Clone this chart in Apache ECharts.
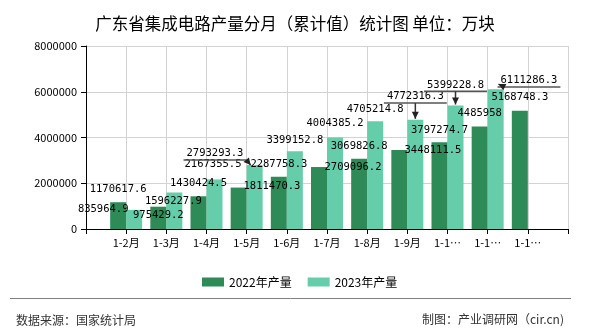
<!DOCTYPE html>
<html>
<head>
<meta charset="utf-8">
<script src="https://cdn.jsdelivr.net/npm/echarts@6/dist/echarts.min.js"></script>
<style>html,body{margin:0;padding:0;background:#fff;}#main{width:590px;height:330px;}</style>
</head>
<body>
<div id="main"></div>
<script>
// ---- data ----
const categories = ['1-2月','1-3月','1-4月','1-5月','1-6月','1-7月','1-8月','1-9月','1-10月','1-11月','1-12月'];
const values2022 = [1170617.6, 975429.2, 1430424.5, 1811470.3, 2287758.3, 2709096.2, 3069826.8, 3448111.5, 3797274.7, 4485958, 5168748.3];
const values2023 = [835964.9, 1596227.9, 2167355.5, 2793293.3, 3399152.8, 4004385.2, 4705214.8, 4772316.3, 5399228.8, 6111286.3, null];
const seriesNames = ['2022年产量', '2023年产量'];
const titleText = '广东省集成电路产量分月（累计值）统计图 单位：万块';
const sourceText = '数据来源：国家统计局';
const creditText = '制图：产业调研网（cir.cn)';

// ---- label placement tweaks (offset from default 'top' spot, px) ----
const labelShift = [
  [[0,0],[0,20.8],[0,-0.9],[33.3,11.5],[0,0],[34,13],[0,0],[33.6,12.5],[0,0.8],[0,-0.9],[0,-0.8]],
  [[-31,11.5],[-1,20.8],[-1.5,-2.5],[-39.7,0.8],[0,1.1],[0,-1.9],[0,0],[0,-10.8],[0,-8.2],[33.3,3.9],[0,0]]
];
// annotated (moved) labels of 2023 series: index -> kind
const annotated = {3: 'left', 7: 'up', 8: 'up', 9: 'right'};

const LABEL_FONT = '"DejaVu Sans Mono", monospace';
const CJK = '"Noto Sans CJK SC", sans-serif';
const colors = ['#2e8b57', '#66cdaa'];

const axisData = [''].concat(categories, ['']);
const pad = arr => [null].concat(arr, [null]);

const chart = echarts.init(document.getElementById('main'), null, {renderer: 'canvas'});

function makeSeries(idx, vals) {
  return {
    name: seriesNames[idx],
    type: 'bar',
    data: pad(vals),
    barWidth: 16,
    barGap: '0%',
    itemStyle: {color: colors[idx]},
    label: {
      show: true,
      position: 'top',
      color: '#000',
      fontSize: 10.5,
      fontFamily: LABEL_FONT,
      formatter: p => String(p.value)
    },
    labelLayout: function (p) {
      const s = (labelShift[p.seriesIndex] || [])[p.dataIndex - 1] || [0, 0];
      const r = p.rect;
      return {
        x: r.x + r.width / 2 + s[0],
        y: r.y - 12.5 + s[1],
        align: 'center',
        verticalAlign: 'middle'
      };
    },
    z: 2
  };
}

const option = {
  animation: false,
  backgroundColor: '#fff',
  title: [
    {text: titleText, left: 'center', top: 10,
     textStyle: {fontSize: 16.5, fontWeight: 'normal', color: '#000', fontFamily: CJK}},
    {text: sourceText, left: 11, top: 309,
     textStyle: {fontSize: 12, fontWeight: 'normal', color: '#333', fontFamily: CJK}},
    {text: creditText, right: 21, top: 308,
     textStyle: {fontSize: 12, fontWeight: 'normal', color: '#333', fontFamily: CJK}}
  ],
  legend: {
    data: seriesNames,
    left: 197, top: 271,
    icon: 'rect', itemWidth: 22, itemHeight: 9, itemGap: 16,
    textStyle: {fontSize: 12, color: '#000', fontFamily: CJK}
  },
  grid: {left: 86, right: 22, top: 46, bottom: 101, containLabel: false},
  xAxis: {
    type: 'category',
    data: axisData,
    boundaryGap: false,
    axisLine: {lineStyle: {color: '#000', width: 1}},
    axisTick: {show: true, length: 5, interval: 0, lineStyle: {color: '#000'}},
    axisLabel: {interval: 0, fontSize: 11, color: '#000', fontFamily: CJK, margin: 8,
                width: 29, overflow: 'truncate', ellipsis: '…'},
    splitLine: {show: true, interval: 0, lineStyle: {color: '#d3d3d3', width: 1}}
  },
  yAxis: {
    type: 'value',
    min: 0, max: 8000000, interval: 2000000,
    axisLine: {show: true, lineStyle: {color: '#000', width: 1}},
    axisTick: {show: true, length: 5, lineStyle: {color: '#000'}},
    axisLabel: {fontSize: 11, color: '#000', fontFamily: CJK, margin: 9,
                formatter: v => String(v)},
    splitLine: {show: true, lineStyle: {color: '#d3d3d3', width: 1}}
  },
  series: [makeSeries(0, values2022), makeSeries(1, values2023)]
};

chart.setOption(option);

// ---- annotation guide lines with arrows for moved labels ----
function textWidth(t) {
  const c = document.createElement('canvas').getContext('2d');
  c.font = '10.5px ' + LABEL_FONT;
  return c.measureText(t).width;
}
function arrowHead(tip, from, len, half, fill) {
  const dx = tip[0] - from[0], dy = tip[1] - from[1];
  const d = Math.sqrt(dx * dx + dy * dy) || 1;
  const ux = dx / d, uy = dy / d;
  const bx = tip[0] - ux * len, by = tip[1] - uy * len;
  return {type: 'polygon', silent: true, z: 100,
    shape: {points: [tip, [bx - uy * half, by + ux * half], [bx + uy * half, by - ux * half]]},
    style: {fill: fill}};
}
const graphics = [{
  type: 'line', silent: true,
  shape: {x1: 10, y1: 298.5, x2: 571, y2: 298.5},
  style: {stroke: '#808080', lineWidth: 1}
}];
Object.keys(annotated).forEach(k => {
  const i = +k, kind = annotated[k];
  const v = values2023[i];
  const pt = chart.convertToPixel({xAxisIndex: 0, yAxisIndex: 0}, [i + 1, v]);
  const barLeft = pt[0], barCx = pt[0] + 8, top = pt[1];
  const s = labelShift[1][i];
  const cx = barCx + s[0], cy = top - 12.5 + s[1];
  const w = textWidth(String(v));
  const uy = cy + 6.5;
  const uL = cx - w / 2 - 3, uR = cx + w / 2 + 3;
  graphics.push({type: 'line', silent: true, z: 99,
    shape: {x1: uL, y1: uy, x2: uR, y2: uy},
    style: {stroke: '#555', lineWidth: 1.5}});
  let from, tip;
  if (kind === 'up') { from = [barCx, uy]; tip = [barCx, top - 1]; }
  else if (kind === 'left') { from = [uR, uy]; tip = [barLeft + 4, top]; }
  else { from = [uL + 7, uy]; tip = [uL + 1, uy - 3]; }
  graphics.push({type: 'line', silent: true, z: 99,
    shape: {x1: from[0], y1: from[1], x2: tip[0], y2: tip[1]},
    style: {stroke: '#333', lineWidth: 1.5}});
  graphics.push(arrowHead(tip, from, 7, 3.5, '#222'));
});
chart.setOption({graphic: graphics});
</script>
</body>
</html>
